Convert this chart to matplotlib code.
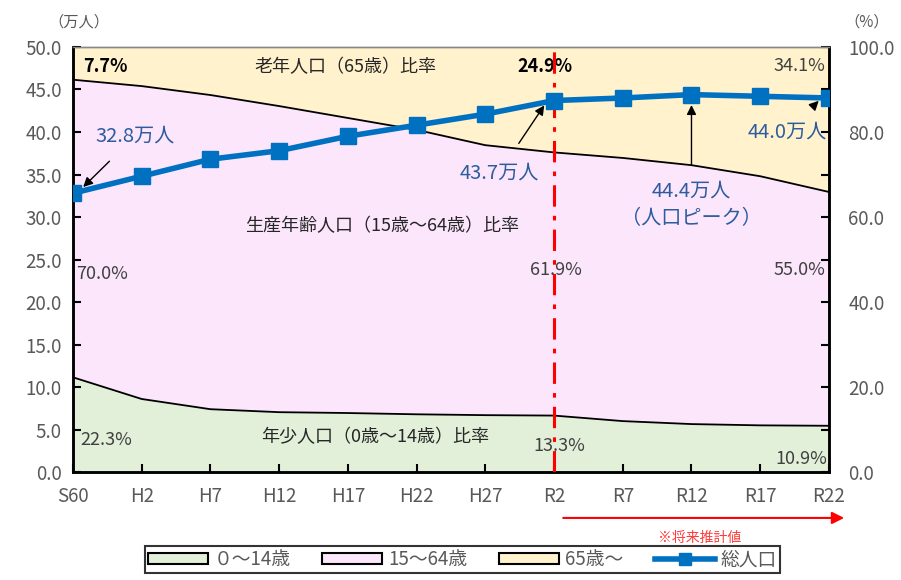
import numpy as np
import matplotlib.pyplot as plt
from matplotlib.patches import Patch, FancyArrowPatch
from matplotlib.lines import Line2D

plt.rcParams['font.family'] = ['Noto Sans CJK JP', 'DejaVu Sans']

years = ['S60', 'H2', 'H7', 'H12', 'H17', 'H22', 'H27', 'R2', 'R7', 'R12', 'R17', 'R22']
total = [32.8, 34.8, 36.8, 37.8, 39.5, 40.8, 42.1, 43.7, 44.0, 44.4, 44.2, 44.0]  # 万人
young = [22.3, 17.2, 14.8, 14.1, 13.9, 13.6, 13.4, 13.3, 12.0, 11.3, 11.0, 10.9]  # %
old = [7.7, 9.2, 11.3, 13.9, 16.7, 19.5, 23.1, 24.9, 26.1, 27.8, 30.4, 34.1]
working = [70.0, 73.6, 73.9, 72.0, 69.4, 66.9, 63.5, 61.9, 61.9, 60.9, 58.6, 55.0]

c_young = '#E2EFD9'
c_work = '#FCE6FC'
c_old = '#FFF2CC'
c_line = '#0070C0'
c_blue_txt = '#2E5C9E'
c_tick = '#595959'

x = np.arange(len(years))

fig = plt.figure(figsize=(9.01, 5.80), dpi=100)
ax = fig.add_axes([0.081, 0.186, 0.839, 0.733])
ax2 = ax.twinx()

# stacked ratios on the right (%) axis
y1 = np.array(young)
y2 = y1 + np.array(working)
y3 = y2 + np.array(old)
ax2.fill_between(x, 0, y1, color=c_young, lw=0)
ax2.fill_between(x, y1, y2, color=c_work, lw=0)
ax2.fill_between(x, y2, np.maximum(y3, 100), color=c_old, lw=0)
ax2.plot(x, y1, color='black', lw=1.3)
ax2.plot(x, y2, color='black', lw=1.3)
ax2.set_ylim(0, 100)

# total population line on the left axis, kept above the areas
ax.set_zorder(ax2.get_zorder() + 1)
ax.patch.set_visible(False)
ax.plot(x, total, color=c_line, lw=4, marker='s', ms=11, zorder=5)
ax.set_ylim(0, 50)
ax.set_xlim(0, 11)

ax.axvline(7, color='#FF0000', lw=2.2, ls=(0, (7, 3, 1.5, 3)), zorder=4)

ax.set_xticks(x)
ax.set_xticklabels(years)
ax.set_yticks(np.arange(0, 50.1, 5))
ax.set_yticklabels([f'{v:.1f}' for v in np.arange(0, 50.1, 5)])
ax2.set_yticks(np.arange(0, 100.1, 20))
ax2.set_yticks(np.arange(0, 100.1, 10), minor=True)
ax2.set_yticklabels([f'{v:.1f}' for v in np.arange(0, 100.1, 20)])

for a in (ax, ax2):
    a.tick_params(axis='both', direction='in', length=6, width=1.5,
                  colors='black', labelcolor=c_tick, labelsize=13.5)
    for s in ('left', 'right', 'bottom'):
        a.spines[s].set_linewidth(1.8)
    a.spines['top'].set_color('#888888')
    a.spines['top'].set_linewidth(1)
ax2.tick_params(axis='y', which='minor', direction='in', length=6, width=1.5)
ax.tick_params(axis='x', pad=10)
ax2.tick_params(axis='y', pad=14)
ax.tick_params(axis='y', pad=8)

fig.text(0.088, 0.955, '（万人）', fontsize=11, color=c_tick, ha='center')
fig.text(0.962, 0.955, '（%）', fontsize=11, color=c_tick, ha='center')

# band titles
tk = dict(fontsize=13, color='#262626', ha='center', va='center')
ax2.text(3.97, 95.3, '老年人口（65歳）比率', **tk)
ax2.text(4.5, 57.8, '生産年齢人口（15歳～64歳）比率', **tk)
ax2.text(4.4, 8.2, '年少人口（0歳～14歳）比率', **tk)

# percentage labels
pk = dict(fontsize=13, color='#404040', va='center')
ax2.text(0.15, 95.5, f'{old[0]:.1f}%', fontweight='bold', color='black', fontsize=13, va='center')
ax2.text(6.87, 95.5, f'{old[7]:.1f}%', fontweight='bold', color='black', fontsize=13, va='center', ha='center')
ax2.text(10.95, 95.5, f'{old[11]:.1f}%', ha='right', **pk)
ax2.text(0.05, 46.5, f'{working[0]:.1f}%', **pk)
ax2.text(7.03, 47.5, f'{working[7]:.1f}%', ha='center', **pk)
ax2.text(10.95, 47.5, f'{working[11]:.1f}%', ha='right', **pk)
ax2.text(0.1, 7.5, f'{young[0]:.1f}%', **pk)
ax2.text(7.07, 6.2, f'{young[7]:.1f}%', ha='center', **pk)
ax2.text(10.98, 3.0, f'{young[11]:.1f}%', ha='right', **pk)

# population call-outs
bk = dict(fontsize=14.5, color=c_blue_txt, ha='center', va='center')
ap = dict(arrowstyle='-|>', color='black', lw=1, mutation_scale=14)
ax.annotate(f'{total[0]:.1f}万人', xy=(0.12, total[0] + 0.5), xytext=(0.9, 39.5),
            arrowprops=dict(ap, shrinkA=12, shrinkB=2), **bk)
ax.annotate(f'{total[7]:.1f}万人', xy=(6.88, total[7] - 0.3), xytext=(6.2, 35.2),
            arrowprops=dict(ap, shrinkA=14, shrinkB=2), **bk)
ax.annotate(f'{total[9]:.1f}万人', xy=(9, total[9] - 0.9), xytext=(9, 33.0),
            arrowprops=dict(ap, shrinkA=10, shrinkB=2), **bk)
ax.text(9, 29.8, '（人口ピーク）', **bk)
ax.annotate(f'{total[11]:.1f}万人', xy=(10.88, total[11] - 0.1), xytext=(10.4, 40.0),
            arrowprops=dict(ap, shrinkA=12, shrinkB=2), **bk)

# projection arrow under the axis
fig.patches.append(FancyArrowPatch((0.622, 0.107), (0.94, 0.107), transform=fig.transFigure,
                                   arrowstyle='-|>', mutation_scale=18, color='#FF0000', lw=1.5))
fig.text(0.777, 0.073, '※将来推計値', fontsize=10, color='#FF3B3B', ha='center', va='center')

handles = [
    Patch(facecolor=c_young, edgecolor='black', lw=1.5),
    Patch(facecolor=c_work, edgecolor='black', lw=1.5),
    Patch(facecolor=c_old, edgecolor='black', lw=1.5),
    Line2D([], [], color=c_line, lw=4, marker='s', ms=9),
]
leg = fig.legend(handles, ['０～14歳', '15～64歳', '65歳～', '総人口'], ncol=4,
                 loc='upper left', bbox_to_anchor=(0.161, 0.058), frameon=True,
                 fontsize=13.5, handlelength=3.2, handleheight=0.5, columnspacing=1.7,
                 handletextpad=0.3, borderpad=0.15, borderaxespad=0.0, fancybox=False,
                 labelcolor=c_tick)
leg.get_frame().set_edgecolor('black')
leg.get_frame().set_linewidth(1.5)

fig.savefig('out.png', dpi=100)
